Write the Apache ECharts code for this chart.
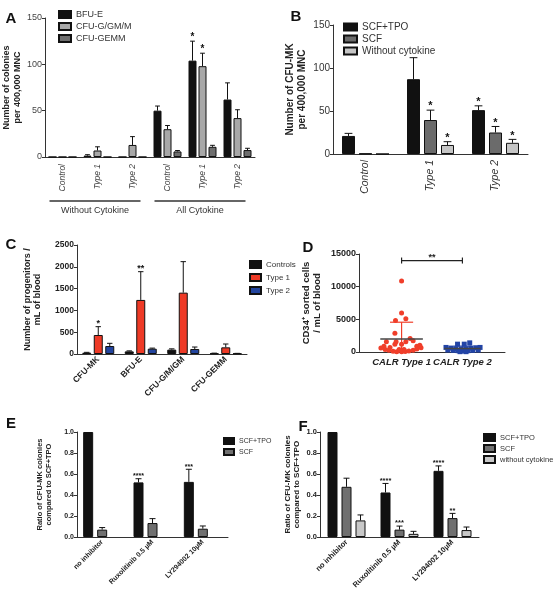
<!DOCTYPE html>
<html><head><meta charset="utf-8">
<script src="https://cdn.jsdelivr.net/npm/echarts@6/dist/echarts.min.js"></script>
<style>html,body{margin:0;padding:0;background:#fff}#c{width:553px;height:593px}</style>
</head><body><div id="c"></div>
<script>
// ---------- Panel A ----------
const aCats = ['Control','Type 1','Type 2','Control','Type 1','Type 2'];
const aGroups = ['Without Cytokine','All Cytokine'];
const aBfuE = [0, 1.5, 0, 50, 104, 62];
const aBfuEErr = [null, 2.5, null, 55, 125, 80];
const aCfuG = [0, 7, 13, 30, 98, 42];
const aCfuGErr = [null, 11, 22, 34, 112, 51];
const aGemm = [0, 0, 0, 6, 11, 7.5];
const aGemmErr = [null, null, null, 7, 12.6, 9.4];
const aBfuEStars = ['','','','','*',''];
const aCfuGStars = ['','','','','*',''];
// ---------- Panel B ----------
const bCats = ['Control','Type 1','Type 2'];
const bScfTpo = [21, 87, 51];
const bScfTpoErr = [24, 112, 56];
const bScf = [0.5, 39.5, 25];
const bScfErr = [null, 51, 32];
const bWo = [0, 10.5, 13];
const bWoErr = [null, 14.3, 17];
const bScfTpoStars = ['','','*'];
const bScfStars = ['','*','*'];
const bWoStars = ['','*','*'];
// ---------- Panel C ----------
const cCats = ['CFU-MK','BFU-E','CFU-G/M/GM','CFU-GEMM'];
const cCtrl = [30, 60, 100, 15];
const cCtrlErr = [38, 72, 118, 20];
const cT1 = [436, 1240, 1407, 153];
const cT1Err = [627, 1888, 2118, 229];
const cT2 = [183, 122, 115, 12];
const cT2Err = [245, 135, 160, 15];
const cT1Stars = ['*','**','',''];
// ---------- Panel D ----------
const dCats = ['CALR Type 1','CALR Type 2'];
const dType1X = [1.00,1.00,0.90,1.07,0.89,0.75,0.91,1.07,1.14,1.19,1.00,0.71,0.81,0.89,1.25,1.30,0.66,0.73,0.79,0.86,0.92,1.00,1.06,1.12,1.19,1.25,1.32,0.96,1.04];
const dType1Y = [10870,5960,4810,5080,2860,1550,1550,1550,2080,1710,1200,890,680,1200,890,1040,600,400,250,120,50,20,60,150,280,450,650,400,380];
const dType2X = [1.92,2.03,2.12,1.73,1.81,1.89,1.98,2.06,2.14,2.22,2.29,1.76,1.85,1.93,2.01,2.09,2.17,2.26,1.96,2.06];
const dType2Y = [1200,1200,1400,700,600,500,450,500,600,650,700,300,250,200,150,200,250,300,50,50];
const dMean = [2000, 520];
const dSdTop = [4560, 900];
const dSig = [[1, 2, 14000]];
const dSigText = ['**'];
// ---------- Panel E ----------
const eCats = ['no inhibitor','Ruxolitinib 0.5 µM','LY294002 10µM'];
const eScfTpo = [1.0, 0.52, 0.525];
const eScfTpoErr = [null, 0.555, 0.645];
const eScf = [0.07, 0.133, 0.079];
const eScfErr = [0.09, 0.175, 0.105];
const eScfTpoStars = ['','****','***'];
// ---------- Panel F ----------
const fCats = ['no inhibitor','Ruxolitinib 0.5 µM','LY294002 10µM'];
const fScfTpo = [1.0, 0.424, 0.63];
const fScfTpoErr = [null, 0.51, 0.677];
const fScf = [0.478, 0.07, 0.18];
const fScfErr = [0.56, 0.104, 0.225];
const fWo = [0.158, 0.03, 0.066];
const fWoErr = [0.21, 0.054, 0.095];
const fScfTpoStars = ['','****','****'];
const fScfStars = ['','***','**'];

const FONT = 'Liberation Sans, Arial, sans-serif';
const INK = '#222';

function bar(name, ax, data, color, bw, gapPx) {
  return {type:'bar', name, xAxisIndex:ax, yAxisIndex:ax, data, barWidth:bw,
    barGap: (gapPx / bw * 100) + '%', itemStyle:{color, borderColor:'#111', borderWidth:1},
    animation:false, silent:true};
}
function errSeries(ax, vals, errs, stars, si, n, bw, gapPx, fs) {
  return {
    type:'custom', xAxisIndex:ax, yAxisIndex:ax, z:5, silent:true, animation:false,
    data: vals.map((v,i)=>[i, v == null ? 0 : v, errs[i] == null ? NaN : errs[i]]),
    renderItem(params, api) {
      const i = api.value(0), v = api.value(1), e = api.value(2);
      const star = stars ? stars[params.dataIndex] : '';
      const base = api.coord([i, v]);
      const x = base[0] + (si - (n-1)/2) * (bw + gapPx);
      const ch = [];
      let topY = base[1];
      if (!isNaN(e)) {
        topY = api.coord([i, e])[1];
        ch.push({type:'line', shape:{x1:x,y1:base[1],x2:x,y2:topY}, style:{stroke:'#111',lineWidth:1}});
        ch.push({type:'line', shape:{x1:x-bw*0.3,y1:topY,x2:x+bw*0.3,y2:topY}, style:{stroke:'#111',lineWidth:1}});
      }
      if (star) ch.push({type:'text', x:x, y:topY + fs*0.15, style:{text:star, fill:'#111', font:`bold ${fs}px ${FONT}`, align:'center', verticalAlign:'bottom'}});
      return {type:'group', children:ch};
    }
  };
}
function yAx(gi, max, interval, name, gap, nameFs, lh, labFs, bold, fmt, labColor) {
  return {type:'value', gridIndex:gi, min:0, max, interval, name, nameLocation:'middle', nameGap:gap, nameRotate:90,
    nameTextStyle:{fontFamily:FONT, fontWeight:'bold', fontSize:nameFs, lineHeight:lh, color:INK},
    axisLine:{show:true, lineStyle:{color:'#333', width:1}}, axisTick:{show:true, length:3, lineStyle:{color:'#333'}},
    splitLine:{show:false},
    axisLabel:{fontFamily:FONT, fontSize:labFs, fontWeight: bold ? 'bold' : 'normal', color: labColor || INK, margin:3, formatter: fmt || (v => String(v))}};
}
function xCat(gi, data, rotate, fs, italic, bold, margin, color) {
  return {type:'category', gridIndex:gi, data, axisLine:{lineStyle:{color:'#333', width:1}}, axisTick:{show:false},
    axisLabel:{interval:0, rotate, fontFamily:FONT, fontSize:fs, fontStyle: italic ? 'italic':'normal', fontWeight: bold ? 'bold':'normal', color: color || INK, margin}};
}
function leg(names, left, top, iw, ih, gap, fs) {
  return {data:names, left, top, orient:'vertical', itemWidth:iw, itemHeight:ih, itemGap:gap, icon:'rect',
    selectedMode:false, formatter: n => n.split('|')[1], textStyle:{fontFamily:FONT, fontSize:fs, color:'#333'},
    padding:0};
}
const grid = (left, top, width, height) => ({left, top, width, height, containLabel:false, outerBoundsMode:'none'});
const fmt1 = v => v.toFixed(1);

const option = {
  backgroundColor:'#fff',
  animation:false,
  grid:[grid(45,18,210,139), grid(333,25,195,129), grid(77,245,170,109), grid(359,254,146,98), grid(77,432,151,105), grid(320,432,159,105)],
  xAxis:[
    xCat(0, aCats, 90, 8.5, true, false, 7, '#444'),
    xCat(1, bCats, 90, 10.5, true, false, 6, '#333'),
    xCat(2, cCats, 45, 8.5, false, true, 4),
    {type:'value', gridIndex:3, min:0.3, max:2.7, axisLine:{lineStyle:{color:'#333'}}, axisTick:{show:false}, splitLine:{show:false},
      axisLabel:{customValues:[1,2], formatter: v => dCats[Math.round(v)-1] || '', fontFamily:FONT, fontSize:9.5, fontStyle:'italic', fontWeight:'bold', color:INK, margin:5}},
    xCat(4, eCats, 45, 7, false, true, 4),
    xCat(5, fCats, 45, 7.5, false, true, 4)
  ],
  yAxis:[
    yAx(0, 150, 50, 'Number of colonies\nper 400,000 MNC', 20, 9, 11, 9, false, null, '#444'),
    yAx(1, 150, 50, 'Number of CFU-MK\nper 400,000 MNC', 25, 10, 12, 10, false, null, '#333'),
    yAx(2, 2500, 500, 'Number of progenitors /\nmL of blood', 34, 9, 10.5, 8.5, true),
    yAx(3, 15000, 5000, 'CD34⁺ sorted cells\n/ mL of blood', 36, 9.5, 11, 9, true),
    yAx(4, 1, 0.2, 'Ratio of CFU-MK colonies\ncompared to SCF+TPO', 24, 7.5, 9, 7, true, fmt1),
    yAx(5, 1, 0.2, 'Ratio of CFU-MK colonies\ncompared to SCF+TPO', 18, 8, 9.5, 7.5, true, fmt1)
  ],
  legend:[
    leg(['A|BFU-E','A|CFU-G/GM/M','A|CFU-GEMM'], 58, 10, 12, 7, 3, 9),
    leg(['B|SCF+TPO','B|SCF','B|Without cytokine'], 343, 22, 13, 7, 2, 10),
    leg(['C|Controls','C|Type 1','C|Type 2'], 249, 260, 11, 7, 4, 8),
    leg(['E|SCF+TPO','E|SCF'], 223, 437, 10, 6, 3, 7),
    leg(['F|SCF+TPO','F|SCF','F|without cytokine'], 483, 433, 11, 7, 2, 7.5)
  ],
  series:[
    // A
    bar('A|BFU-E', 0, aBfuE, '#111', 8, 2),
    bar('A|CFU-G/GM/M', 0, aCfuG, '#a8a8a8', 8, 2),
    bar('A|CFU-GEMM', 0, aGemm, '#6e6e6e', 8, 2),
    errSeries(0, aBfuE, aBfuEErr, aBfuEStars, 0, 3, 8, 2, 10),
    errSeries(0, aCfuG, aCfuGErr, aCfuGStars, 1, 3, 8, 2, 10),
    errSeries(0, aGemm, aGemmErr, null, 2, 3, 8, 2, 10),
    // B
    bar('B|SCF+TPO', 1, bScfTpo, '#111', 13, 4),
    bar('B|SCF', 1, bScf, '#6b6b6b', 13, 4),
    bar('B|Without cytokine', 1, bWo, '#c6c6c6', 13, 4),
    errSeries(1, bScfTpo, bScfTpoErr, bScfTpoStars, 0, 3, 13, 4, 11),
    errSeries(1, bScf, bScfErr, bScfStars, 1, 3, 13, 4, 11),
    errSeries(1, bWo, bWoErr, bWoStars, 2, 3, 13, 4, 11),
    // C
    bar('C|Controls', 2, cCtrl, '#111', 9, 2.5),
    bar('C|Type 1', 2, cT1, '#ee3a26', 9, 2.5),
    bar('C|Type 2', 2, cT2, '#22449e', 9, 2.5),
    errSeries(2, cCtrl, cCtrlErr, null, 0, 3, 9, 2.5, 9),
    errSeries(2, cT1, cT1Err, cT1Stars, 1, 3, 9, 2.5, 9),
    errSeries(2, cT2, cT2Err, null, 2, 3, 9, 2.5, 9),
    // D
    {type:'scatter', xAxisIndex:3, yAxisIndex:3, symbol:'circle', symbolSize:5, itemStyle:{color:'#f03e2a', opacity:1},
      data: dType1X.map((x,i)=>[x, dType1Y[i]]), silent:true, z:3},
    {type:'scatter', xAxisIndex:3, yAxisIndex:3, symbol:'rect', symbolSize:5, itemStyle:{color:'#2244a6', opacity:1},
      data: dType2X.map((x,i)=>[x, dType2Y[i]]), silent:true, z:3},
    {type:'custom', xAxisIndex:3, yAxisIndex:3, z:4, silent:true,
      data: dMean.map((m,i)=>[i+1, m, dSdTop[i]]),
      renderItem(params, api){
        const x = api.value(0), m = api.value(1), t = api.value(2);
        const lo = Math.max(0, 2*m - t);
        const col = params.dataIndex === 0 ? '#f03e2a' : '#2244a6';
        const mw = params.dataIndex === 0 ? 0.35 : 0.3, cw = params.dataIndex === 0 ? 0.19 : 0.15;
        const a = api.coord([x-mw, m]), b = api.coord([x+mw, m]);
        const p1 = api.coord([x, lo]), p2 = api.coord([x, t]);
        const c1 = api.coord([x-cw, t]), c2 = api.coord([x+cw, t]);
        return {type:'group', children:[
          {type:'line', shape:{x1:p1[0],y1:p1[1],x2:p2[0],y2:p2[1]}, style:{stroke:col,lineWidth:1.2}},
          {type:'line', shape:{x1:c1[0],y1:c1[1],x2:c2[0],y2:c2[1]}, style:{stroke:col,lineWidth:1.2}},
          {type:'line', shape:{x1:a[0],y1:a[1],x2:b[0],y2:b[1]}, style:{stroke:'#444',lineWidth:1.5}}
        ]};
      }},
    {type:'custom', xAxisIndex:3, yAxisIndex:3, z:4, silent:true, data:dSig,
      renderItem(params, api){
        const a = api.coord([api.value(0), api.value(2)]), b = api.coord([api.value(1), api.value(2)]);
        return {type:'group', children:[
          {type:'line', shape:{x1:a[0],y1:a[1],x2:b[0],y2:b[1]}, style:{stroke:'#222',lineWidth:1.2}},
          {type:'line', shape:{x1:a[0],y1:a[1]-3,x2:a[0],y2:a[1]+3}, style:{stroke:'#222',lineWidth:1.2}},
          {type:'line', shape:{x1:b[0],y1:b[1]-3,x2:b[0],y2:b[1]+3}, style:{stroke:'#222',lineWidth:1.2}},
          {type:'text', x:(a[0]+b[0])/2, y:a[1]+1, style:{text:dSigText[params.dataIndex], fill:'#222', font:`bold 9px ${FONT}`, align:'center', verticalAlign:'bottom'}}
        ]};
      }},
    // E
    bar('E|SCF+TPO', 4, eScfTpo, '#111', 10, 4),
    bar('E|SCF', 4, eScf, '#707070', 10, 4),
    bar('E|none', 4, [null, null, null], '#fff', 10, 4),
    errSeries(4, eScfTpo, eScfTpoErr, eScfTpoStars, 0, 3, 10, 4, 7),
    errSeries(4, eScf, eScfErr, null, 1, 3, 10, 4, 7),
    // F
    bar('F|SCF+TPO', 5, fScfTpo, '#111', 10, 4),
    bar('F|SCF', 5, fScf, '#707070', 10, 4),
    bar('F|without cytokine', 5, fWo, '#c8c8c8', 10, 4),
    errSeries(5, fScfTpo, fScfTpoErr, fScfTpoStars, 0, 3, 10, 4, 7.5),
    errSeries(5, fScf, fScfErr, fScfStars, 1, 3, 10, 4, 7.5),
    errSeries(5, fWo, fWoErr, null, 2, 3, 10, 4, 7.5)
  ]
};

const chart = echarts.init(document.getElementById('c'), null, {renderer:'canvas'});
chart.setOption(option);

const letters = [['A',11,19],['B',296,17],['C',11,245],['D',308,248],['E',11,424],['F',303,427]];
const graphics = letters.map(([t,x,y]) => ({type:'text', x, y, style:{text:t, font:`bold 15px ${FONT}`, fill:'#111', align:'center', verticalAlign:'middle'}}));
const px = i => chart.convertToPixel({xAxisIndex:0}, i);
[[0,2],[3,5]].forEach(([s,e], k) => {
  const x1 = px(s) - 13, x2 = px(e) + 8;
  graphics.push({type:'line', shape:{x1, y1:201, x2, y2:201}, style:{stroke:'#333', lineWidth:1.5}});
  graphics.push({type:'text', x:(x1+x2)/2, y:211, style:{text:aGroups[k], font:`9px ${FONT}`, fill:'#333', align:'center', verticalAlign:'middle'}});
});
chart.setOption({graphic: graphics});
</script></body></html>
